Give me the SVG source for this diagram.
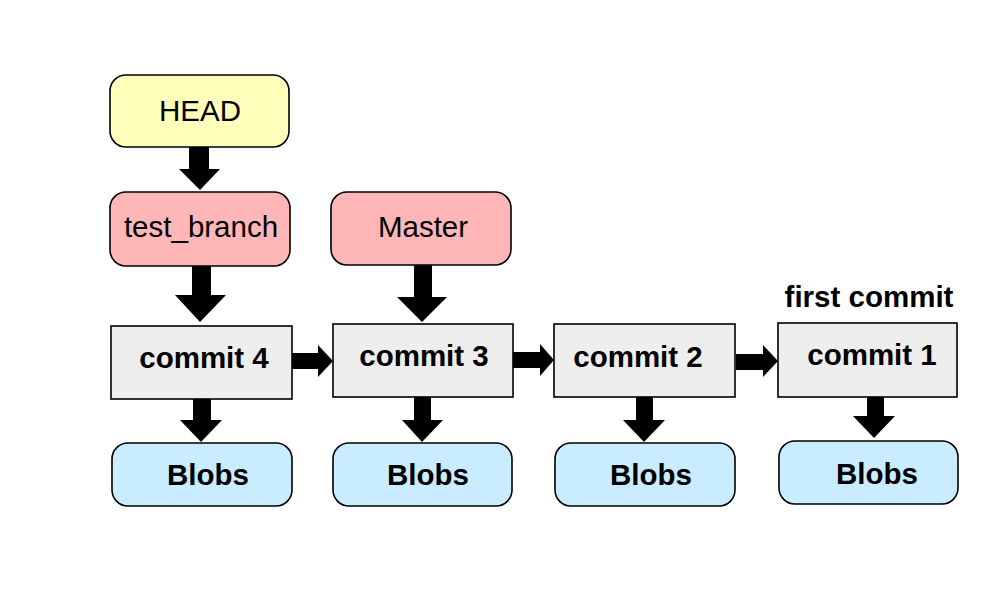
<svg xmlns="http://www.w3.org/2000/svg" width="1000" height="600" viewBox="0 0 1000 600">
<style>
.box{stroke:#000;stroke-width:1.6}
.head{fill:#ffffbb}
.br{fill:#ffb6b6}
.cm{fill:#eeeeee}
.bl{fill:#c9ecff}
.t{font-family:"Liberation Sans",Arial,sans-serif;font-size:29.5px;fill:#000;text-anchor:middle}
.b{font-weight:bold;font-size:29.5px}
.arr{fill:#000}
</style>
<rect width="1000" height="600" fill="#fff"/>
<g id="connectors">
<polygon class="arr" points="189,147 209,147 209,169 220,169 200,190 179,169 189,169"/>
<polygon class="arr" points="192,266 211,266 211,295 226,295 200,322 175,295 192,295"/>
<polygon class="arr" points="414,265 432,265 432,297 447,297 422,322 397,297 414,297"/>
<polygon class="arr" points="292,353 318,353 318,345 333,361 318,377 318,369 292,369"/>
<polygon class="arr" points="513,352 540,352 540,344 554,360 540,376 540,368 513,368"/>
<polygon class="arr" points="736,354 763,354 763,345 778,361 763,377 763,370 736,370"/>
<polygon class="arr" points="193,399 211,399 211,420 222,420 201,442 180,420 193,420"/>
<polygon class="arr" points="414,397 431,397 431,420 443,420 422,442 402,420 414,420"/>
<polygon class="arr" points="636,397 653,397 653,420 665,420 644,442 623,420 636,420"/>
<polygon class="arr" points="867,397 884,397 884,416 895,416 874,438 853,416 867,416"/>
</g>
<g id="head"><rect class="box head" x="110" y="75" width="179" height="72" rx="16"/><text class="t" x="200" y="121">HEAD</text></g>
<g id="test_branch"><rect class="box br" x="110" y="192" width="180" height="74" rx="16"/><text class="t" x="201" y="237">test_branch</text></g>
<g id="master"><rect class="box br" x="331" y="192" width="180" height="73" rx="16"/><text class="t" x="423" y="237">Master</text></g>
<g id="commit4"><rect class="box cm" x="111" y="326" width="181" height="73"/><text class="t b" x="204" y="368">commit 4</text></g>
<g id="commit3"><rect class="box cm" x="333" y="324" width="180" height="73"/><text class="t b" x="424" y="366">commit 3</text></g>
<g id="commit2"><rect class="box cm" x="554" y="324" width="181" height="73"/><text class="t b" x="638" y="367">commit 2</text></g>
<g id="commit1"><rect class="box cm" x="778" y="323" width="179" height="74"/><text class="t b" x="872" y="365">commit 1</text></g>
<g id="first_commit_label"><text class="t b" x="869" y="307">first commit</text></g>
<g id="blobs4"><rect class="box bl" x="112" y="443" width="180" height="63" rx="16"/><text class="t b" x="208" y="485">Blobs</text></g>
<g id="blobs3"><rect class="box bl" x="333" y="443" width="179" height="63" rx="16"/><text class="t b" x="428" y="485">Blobs</text></g>
<g id="blobs2"><rect class="box bl" x="555" y="443" width="180" height="63" rx="16"/><text class="t b" x="651" y="485">Blobs</text></g>
<g id="blobs1"><rect class="box bl" x="779" y="441" width="179" height="63" rx="16"/><text class="t b" x="877" y="484">Blobs</text></g>
</svg>
